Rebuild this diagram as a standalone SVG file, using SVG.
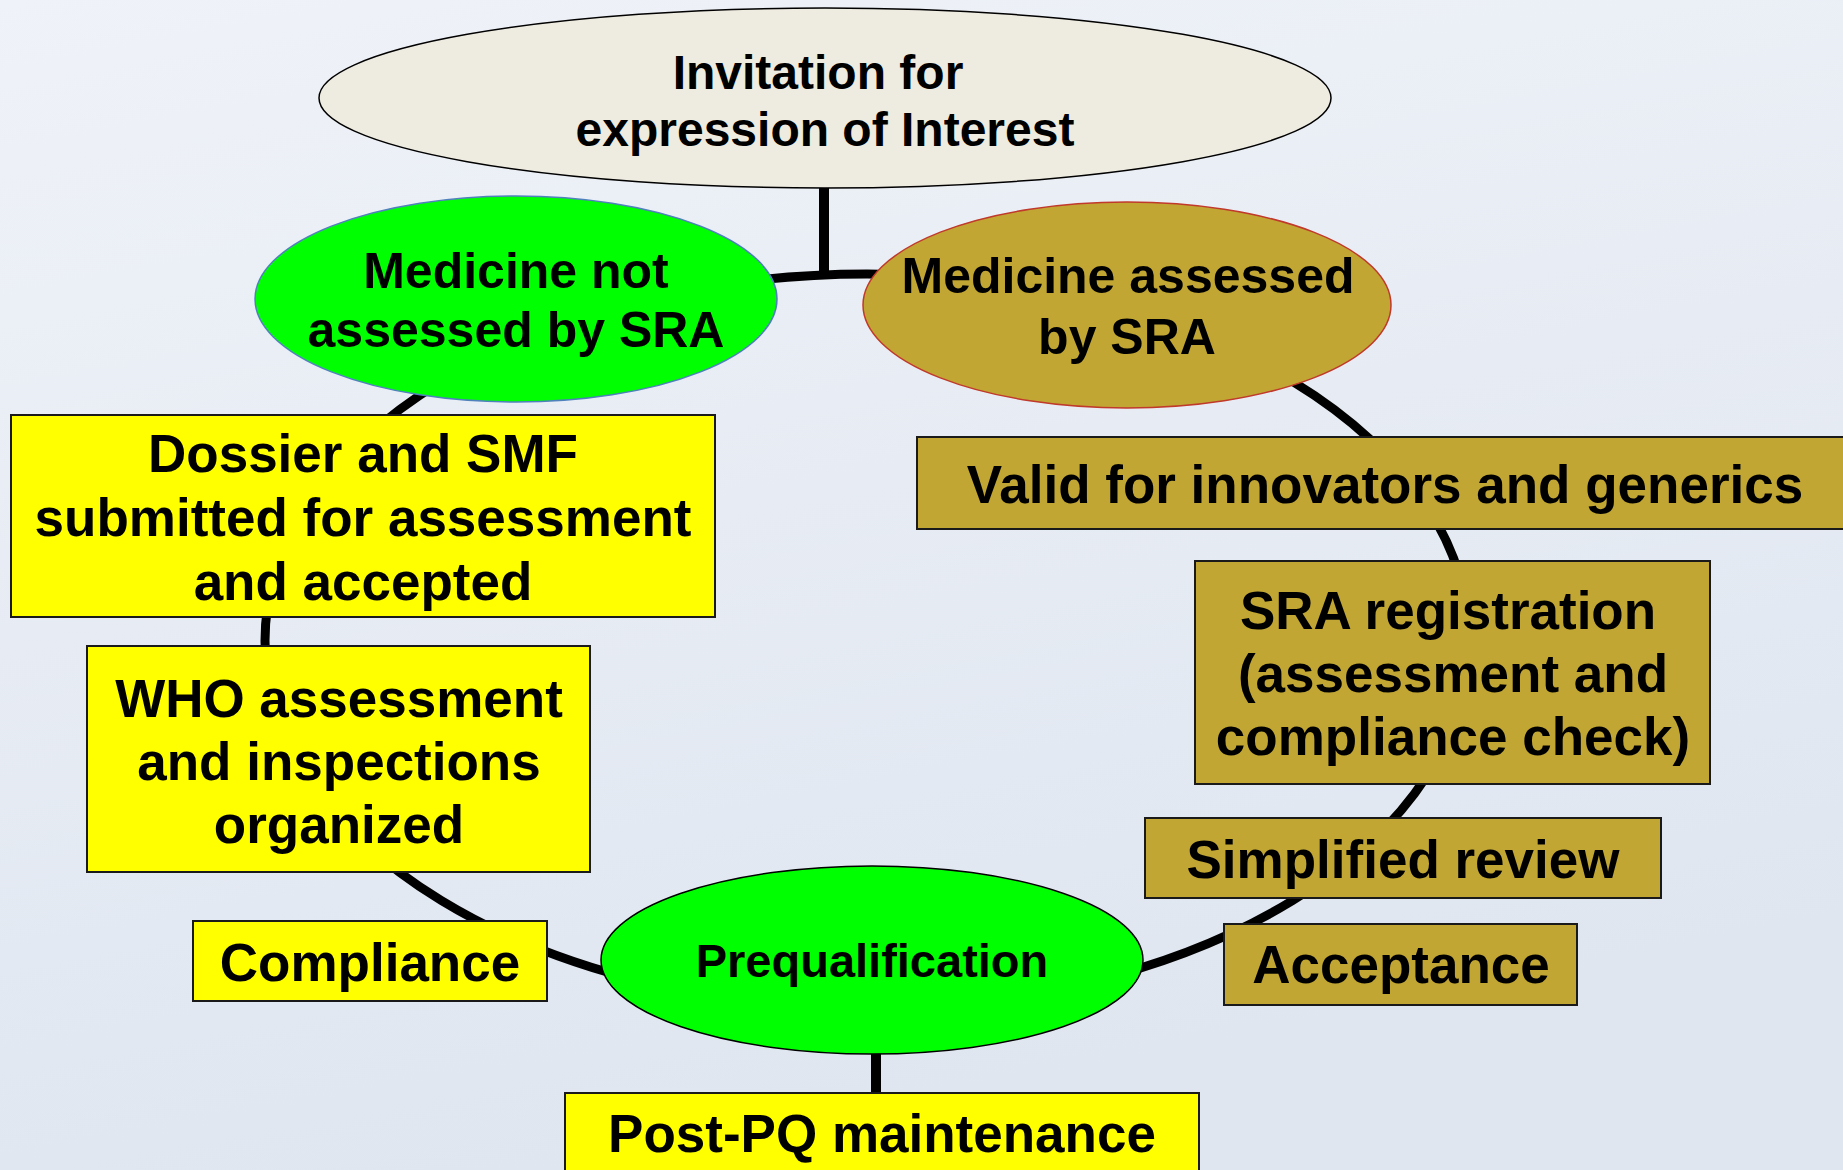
<svg xmlns="http://www.w3.org/2000/svg" width="1843" height="1170" viewBox="0 0 1843 1170">
<defs>
<linearGradient id="bg" x1="0" y1="0" x2="0.3" y2="1">
<stop offset="0" stop-color="#EFF2F8"/>
<stop offset="1" stop-color="#DFE6F0"/>
</linearGradient>
<style>
text{font-family:"Liberation Sans",Arial,sans-serif;font-weight:bold;fill:#000;text-anchor:middle}
.f48{font-size:48px}.f50{font-size:50px}.f53{font-size:53px}.f47{font-size:47px}
.yb{fill:#FFFF00;stroke:#1a1a1a;stroke-width:2}
.ob{fill:#C1A634;stroke:#1a1a1a;stroke-width:2}
.ln{fill:none;stroke:#000;stroke-width:9}
.vl{fill:none;stroke:#000;stroke-width:10}
</style>
</defs>
<rect x="0" y="0" width="1843" height="1170" fill="url(#bg)"/>
<g id="connectors">
<ellipse class="ln" cx="867" cy="641" rx="602" ry="367"/>
<line class="vl" x1="824" y1="185" x2="824" y2="276"/>
<line class="vl" x1="876" y1="1050" x2="876" y2="1095"/>
</g>
<g id="invitation">
<ellipse cx="825" cy="98" rx="506" ry="90" fill="#EEEBE0" stroke="#000" stroke-width="1.5"/>
<text class="f48" x="818" y="89">Invitation for</text>
<text class="f48" x="825" y="146">expression of Interest</text>
</g>
<g id="not-assessed">
<ellipse cx="516" cy="299" rx="261" ry="103" fill="#00FF00" stroke="#4F81BD" stroke-width="1.5"/>
<text class="f50" x="516" y="288">Medicine not</text>
<text class="f50" x="516" y="347">assessed by SRA</text>
</g>
<g id="assessed">
<ellipse cx="1127" cy="305" rx="264" ry="103" fill="#C1A634" stroke="#C0392B" stroke-width="1.5"/>
<text class="f50" x="1128" y="293">Medicine assessed</text>
<text class="f50" x="1127" y="354">by SRA</text>
</g>
<g id="dossier">
<rect class="yb" x="11" y="415" width="704" height="202"/>
<text class="f53" x="363" y="472">Dossier and SMF</text>
<text class="f53" x="363" y="536">submitted for assessment</text>
<text class="f53" x="363" y="600">and accepted</text>
</g>
<g id="who">
<rect class="yb" x="87" y="646" width="503" height="226"/>
<text class="f53" x="339" y="717">WHO assessment</text>
<text class="f53" x="339" y="780">and inspections</text>
<text class="f53" x="339" y="843">organized</text>
</g>
<g id="compliance">
<rect class="yb" x="193" y="921" width="354" height="80"/>
<text class="f53" x="370" y="981">Compliance</text>
</g>
<g id="prequalification">
<ellipse cx="872" cy="960" rx="271" ry="94" fill="#00FF00" stroke="#000" stroke-width="1.5"/>
<text class="f47" x="872" y="977">Prequalification</text>
</g>
<g id="post-pq">
<rect class="yb" x="565" y="1093" width="634" height="100"/>
<text class="f53" x="882" y="1152">Post-PQ maintenance</text>
</g>
<g id="valid">
<rect class="ob" x="917" y="437" width="940" height="92"/>
<text class="f53" x="1385" y="503">Valid for innovators and generics</text>
</g>
<g id="sra-registration">
<rect class="ob" x="1195" y="561" width="515" height="223"/>
<text class="f53" x="1448" y="629">SRA registration</text>
<text class="f53" x="1453" y="692">(assessment and</text>
<text class="f53" x="1453" y="755">compliance check)</text>
</g>
<g id="simplified">
<rect class="ob" x="1145" y="818" width="516" height="80"/>
<text class="f53" x="1403" y="878">Simplified review</text>
</g>
<g id="acceptance">
<rect class="ob" x="1224" y="924" width="353" height="81"/>
<text class="f53" x="1401" y="983">Acceptance</text>
</g>
</svg>
